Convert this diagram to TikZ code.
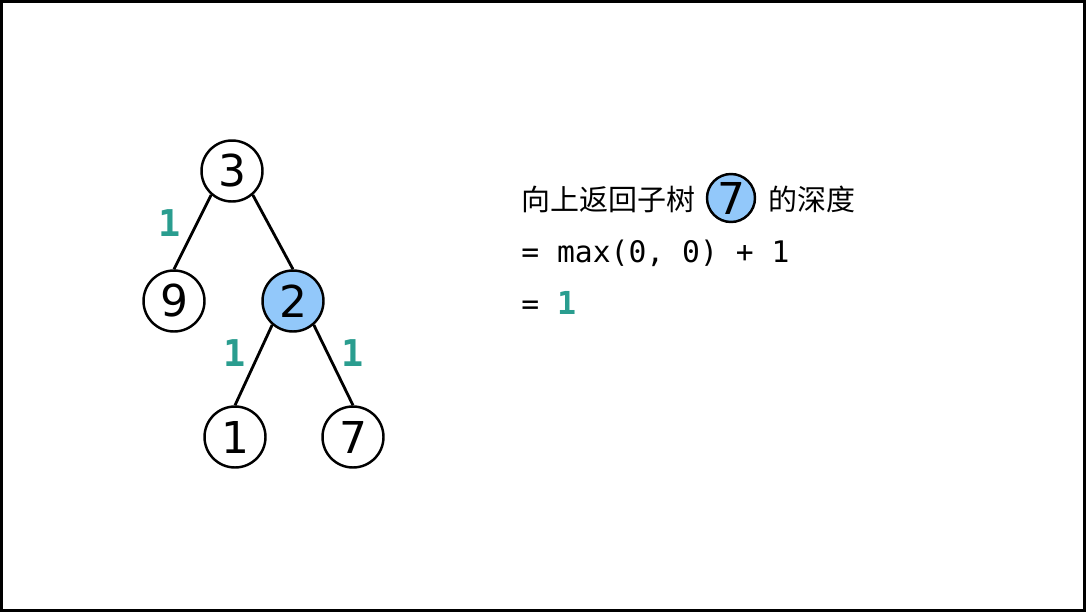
\documentclass[tikz,border=0pt]{standalone}
\usepackage{fontspec}
\setmainfont{DejaVu Sans}
\setmonofont{DejaVu Sans Mono}
\newfontfamily\cjk{Noto Sans CJK SC}
\definecolor{depthgreen}{RGB}{42,157,143}
\definecolor{nodeblue}{RGB}{146,200,250}
\tikzset{
    treenode/.style={draw,circle,line width=1.4pt,minimum size=1.22cm,inner sep=0pt,font=\fontsize{25}{30}\selectfont},
    depth/.style={text=depthgreen,font=\ttfamily\bfseries\fontsize{21}{24}\selectfont},
    edge/.style={line width=1.6pt}
}
\begin{document}
\begin{tikzpicture}[x=0.02cm,y=-0.02cm]
    \useasboundingbox (0,0) rectangle (1086,612);
    \draw[line width=2pt] (1.5,1.5) rectangle (1084.5,610.5);

    \node[treenode] (n3) at (232,171) {3};
    \node[treenode] (n9) at (174,301) {9};
    \node[treenode,fill=nodeblue] (n2) at (293,301) {2};
    \node[treenode] (n1) at (235,437) {1};
    \node[treenode] (n7) at (353,437) {7};

    \draw[edge] (n3.229)--(n9.north);
    \draw[edge] (n3.311)--(n2.north);
    \draw[edge] (n2.229)--(n1.north);
    \draw[edge] (n2.311)--(n7.north);

    \node[depth] (d9) at (170,223) {1};
    \node[depth] (d1) at (235,353) {1};
    \node[depth] (d7) at (353,353) {1};

    % explanation on the right
    \node[anchor=west,inner sep=0pt,font=\cjk\fontsize{16.5}{20}\selectfont] (t1) at (521,199) {向上返回子树};
    \node[treenode,fill=nodeblue,minimum size=0.96cm] (c7) at (731,198) {7};
    \node[anchor=west,inner sep=0pt,font=\cjk\fontsize{16.5}{20}\selectfont] (t2) at (768,199) {的深度};
    \node[anchor=west,inner sep=0pt,font=\ttfamily\fontsize{16.9}{20}\selectfont] (t3) at (521,253) {= max(0, 0) + 1};
    \node[anchor=west,inner sep=0pt,font=\ttfamily\fontsize{16.9}{20}\selectfont] (t4) at (521,303) {= \textcolor{depthgreen}{\bfseries\fontsize{18}{20}\selectfont 1}};
\end{tikzpicture}
\end{document}
